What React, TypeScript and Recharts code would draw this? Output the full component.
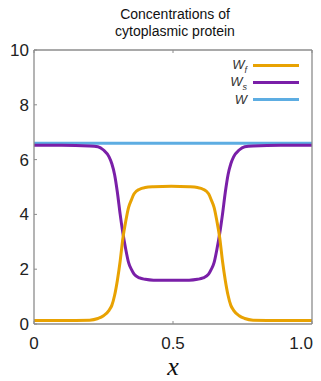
import { LineChart, Line, XAxis, YAxis } from "recharts";

// x positions along the cell (0..1)
const xs = [
  0, 0.1, 0.2, 0.23, 0.25, 0.27, 0.28, 0.29, 0.3, 0.31, 0.32, 0.33, 0.34, 0.35, 0.36, 0.38, 0.4, 0.43,
  0.494,
  0.558, 0.588, 0.608, 0.628, 0.638, 0.648, 0.658, 0.668, 0.678, 0.688, 0.698, 0.708, 0.718, 0.738, 0.758,
  0.788, 0.888, 1.0,
];

const wfValues = [
  0.13, 0.13, 0.14, 0.2, 0.3, 0.5, 0.68, 1.05, 1.6, 2.3, 3.15, 3.75, 4.25, 4.52, 4.75, 4.92, 4.98, 5.01,
  5.03,
  5.01, 4.98, 4.92, 4.75, 4.52, 4.25, 3.75, 3.15, 2.3, 1.6, 1.05, 0.68, 0.5, 0.3, 0.2, 0.14, 0.13, 0.13,
];

const wsValues = [
  6.52, 6.52, 6.5, 6.47, 6.35, 6.1, 5.85, 5.45, 4.8, 4.0, 3.3, 2.73, 2.25, 2.0, 1.82, 1.68, 1.63, 1.6,
  1.6,
  1.6, 1.63, 1.68, 1.82, 2.0, 2.25, 2.73, 3.3, 4.0, 4.8, 5.45, 5.85, 6.1, 6.35, 6.47, 6.5, 6.52, 6.52,
];

const wTotal = 6.6;

const xTicks = [0, 0.5, 1];
const yTicks = [0, 2, 4, 6, 8, 10];

const seriesInfo = [
  { key: "wf", sub: "f", color: "#E8A202" },
  { key: "ws", sub: "s", color: "#7A1FA8" },
  { key: "w", sub: "", color: "#5DADE2" },
];

const data = xs.map((x, i) => ({ x, wf: wfValues[i], ws: wsValues[i], w: wTotal }));

const AXIS = "#8c8c8c";
const FONT = "'Liberation Sans', Arial, sans-serif";

function LeftTick(props: any) {
  const { x, y, payload } = props;
  return (
    <g>
      <text x={x} y={y} dy="0.35em" textAnchor="end" fontSize={17} fill="#222" fontFamily={FONT}>
        {payload.value}
      </text>
      <line x1={x + 5} x2={x + 8} y1={y} y2={y} stroke={AXIS} />
    </g>
  );
}

function BottomTick(props: any) {
  const { x, y, payload } = props;
  const v = payload.value;
  const anchor = v === 1 ? "end" : "middle";
  const label = v === 1 ? "1.0" : String(v);
  return (
    <g>
      <text x={v === 1 ? x + 1 : x} y={y} dy="0.71em" textAnchor={anchor} fontSize={17} fill="#222" fontFamily={FONT}>
        {label}
      </text>
      <line x1={x} x2={x} y1={y - 13} y2={y - 16} stroke={AXIS} />
    </g>
  );
}

function TopTick(props: any) {
  const { x, y } = props;
  return <line x1={x} x2={x} y1={y} y2={y + 3} stroke={AXIS} />;
}

function RightTick(props: any) {
  const { x, y } = props;
  return <line x1={x} x2={x - 3} y1={y} y2={y} stroke={AXIS} />;
}

function LegendBox() {
  return (
    <div style={{ position: "absolute", left: 215, top: 57, display: "flex", flexDirection: "column" }}>
      {seriesInfo.map((s) => (
        <div key={s.key} style={{ display: "flex", alignItems: "center", height: 17 }}>
          <span
            style={{
              width: 32,
              textAlign: "right",
              fontStyle: "italic",
              fontSize: 13,
              fontFamily: FONT,
              color: "#333",
            }}
          >
            W{s.sub && <sub style={{ fontSize: 9 }}>{s.sub}</sub>}
          </span>
          <span style={{ width: 46, height: 3, background: s.color, marginLeft: 6 }} />
        </div>
      ))}
    </div>
  );
}

export default function App() {
  return (
    <div style={{ position: "absolute", left: 0, top: 0, width: 321, height: 381 }}>
      <div
        style={{
          position: "absolute",
          left: 75,
          top: 6,
          width: 200,
          textAlign: "center",
          fontFamily: FONT,
          fontSize: 14,
          lineHeight: "17px",
          color: "#111",
        }}
      >
        Concentrations of
        <br />
        cytoplasmic protein
      </div>
      <LineChart width={321} height={381} data={data} margin={{ top: 49, right: 8, bottom: 27, left: 4 }}>
        <XAxis
          dataKey="x"
          type="number"
          domain={[0, 1]}
          ticks={xTicks}
          interval={0}
          height={30}
          tickSize={0}
          tickMargin={13}
          tick={<BottomTick />}
          axisLine={{ stroke: AXIS, strokeWidth: 1.3 }}
        />
        <XAxis
          xAxisId="top"
          orientation="top"
          dataKey="x"
          type="number"
          domain={[0, 1]}
          ticks={xTicks}
          interval={0}
          height={1}
          tickSize={0}
          tickMargin={0}
          tick={<TopTick />}
          axisLine={{ stroke: AXIS, strokeWidth: 1.3 }}
        />
        <YAxis
          type="number"
          domain={[0, 10]}
          ticks={yTicks}
          interval={0}
          width={30}
          tickSize={0}
          tickMargin={5}
          tick={<LeftTick />}
          axisLine={{ stroke: AXIS, strokeWidth: 1.3 }}
        />
        <YAxis
          yAxisId="right"
          orientation="right"
          type="number"
          domain={[0, 10]}
          ticks={yTicks}
          interval={0}
          width={1}
          tickSize={0}
          tickMargin={0}
          tick={<RightTick />}
          axisLine={{ stroke: AXIS, strokeWidth: 1.3 }}
        />
        <Line type="monotone" dataKey="w" stroke="#5DADE2" strokeWidth={3} dot={false} isAnimationActive={false} />
        <Line type="monotone" dataKey="ws" stroke="#7A1FA8" strokeWidth={3} dot={false} isAnimationActive={false} />
        <Line type="monotone" dataKey="wf" stroke="#E8A202" strokeWidth={3} dot={false} isAnimationActive={false} />
      </LineChart>
      <LegendBox />
      <div
        style={{
          position: "absolute",
          left: 153,
          top: 356,
          width: 40,
          textAlign: "center",
          fontFamily: "'Liberation Serif', 'Times New Roman', serif",
          fontStyle: "italic",
          fontSize: 26,
          lineHeight: "22px",
          color: "#111",
        }}
      >
        x
      </div>
    </div>
  );
}
